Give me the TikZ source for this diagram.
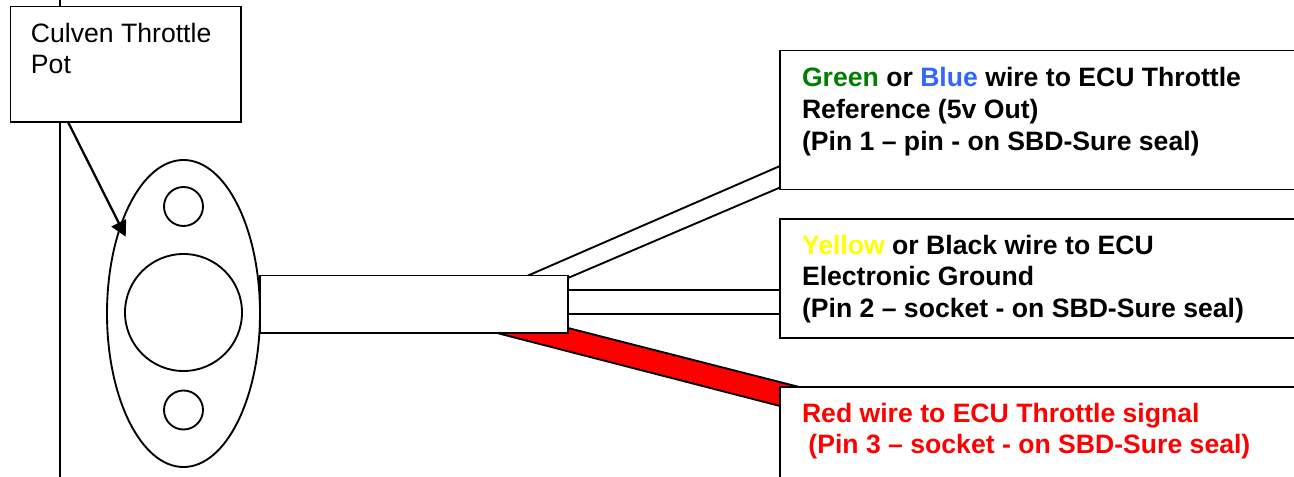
\documentclass[tikz,border=0pt]{standalone}
\usepackage{fontspec}
\setmainfont{Liberation Sans}
\usetikzlibrary{shapes.geometric,arrows.meta}
\definecolor{wirered}{RGB}{255,0,0}
\definecolor{wgreen}{RGB}{0,128,0}
\definecolor{wblue}{RGB}{51,102,255}
\definecolor{wyellow}{RGB}{255,255,0}
\newcommand{\lblfont}{\fontsize{19.95pt}{23.75pt}\selectfont}
\tikzset{
  x=0.75pt,y=-0.75pt,
  ln/.style={draw=black,line width=1.4pt},
  boxnode/.style n args={2}{ln,fill=white,rectangle,inner sep=0pt,outer sep=0pt,minimum width=#1*0.75pt,minimum height=#2*0.75pt},
  round/.style={ln,fill=white,ellipse,inner sep=0pt,outer sep=0pt},
  lab/.style={anchor=north west,inner sep=0pt,outer sep=0pt,align=left,font=\lblfont\bfseries},
}
\begin{document}
\begin{tikzpicture}
\useasboundingbox (0,0) rectangle (1294,477);
% coordinates for free wire ends
\coordinate (railT) at (60,-5);
\coordinate (railB) at (60,482);
\coordinate (w1a) at (527,276);
\coordinate (w1b) at (780,166);
\coordinate (w2a) at (568,278);
\coordinate (w2b) at (780,187.5);
\coordinate (w3a) at (568,290);
\coordinate (w3b) at (780,290);
\coordinate (w4a) at (568,314);
\coordinate (w4b) at (780,314);
\coordinate (r1) at (497,333);
\coordinate (r2) at (568,328);
\coordinate (r3) at (798,386.7);
\coordinate (r4) at (780,406);
% rail
\draw[ln] (railT) -- (railB);
% plate
\node[round,minimum width=153*0.75pt,minimum height=307*0.75pt] (plate) at (183.5,313.5) {};
\node[round,minimum width=117*0.75pt,minimum height=117*0.75pt] (bore) at (183.5,312.5) {};
\node[round,minimum width=39*0.75pt,minimum height=39*0.75pt] (holeA) at (183.5,206.5) {};
\node[round,minimum width=39*0.75pt,minimum height=39*0.75pt] (holeB) at (183.5,410) {};
% wires
\draw[ln] (w1a) -- (w1b);
\draw[ln] (w2a) -- (w2b);
\draw[ln] (w3a) -- (w3b);
\draw[ln] (w4a) -- (w4b);
\filldraw[ln,fill=wirered] (r1) -- (r2) -- (r3) -- (r4) -- cycle;
% cable
\node[boxnode={308}{57.5}] (cable) at (414,304.3) {};
% label boxes
\node[boxnode={230.5}{115.5}] (pot) at (125.75,64.25) {};
\node[boxnode={530}{139}] (box1) at (1045,120) {};
\node[boxnode={530}{119.3}] (box2) at (1045,278.4) {};
\node[boxnode={530}{120}] (box3) at (1045,446.7) {};
% arrow
\coordinate (potOut) at (68,122);
\coordinate (plateIn) at (125.7,236.7);
\draw[ln,line width=1.7pt,-{Triangle[length=15.5*0.75pt,width=16*0.75pt]}] (potOut) -- (plateIn);
% texts
\node[lab,font=\lblfont\mdseries] (potText) at (31,23) {Culven Throttle\\Pot};
\node[lab] (text1) at (802,67.5) {\textcolor{wgreen}{Green} or \textcolor{wblue}{Blue} wire to ECU Throttle\\Reference (5v Out)\\(Pin 1 – pin - on SBD-Sure seal)};
\node[lab] (text2) at (802,235) {\textcolor{wyellow}{Yellow} or Black wire to ECU\\Electronic Ground\\(Pin 2 – socket - on SBD-Sure seal)};
\node[lab,text=wirered] (text3) at (802,403) {Red wire to ECU Throttle signal\\\hspace*{4.8pt}(Pin 3 – socket - on SBD-Sure seal)};
\end{tikzpicture}
\end{document}
